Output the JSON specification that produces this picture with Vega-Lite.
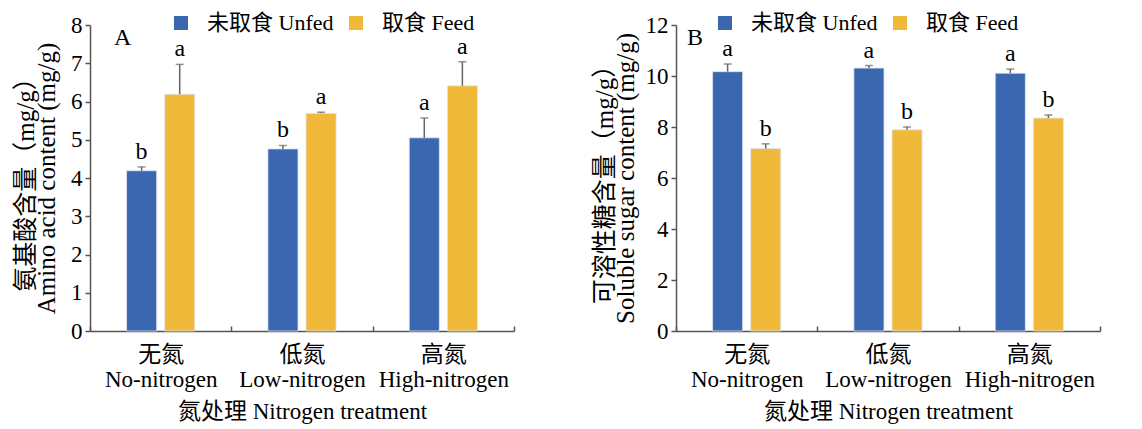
{
  "$schema": "https://vega.github.io/schema/vega-lite/v6.json",
  "bounds": "flush",
  "spacing": 162,
  "padding": {"left": 13, "top": 12, "right": 5, "bottom": 5},
  "datasets": {
    "A": [
      {"treatment": "No-nitrogen", "group": "未取食 Unfed", "mean": 4.19, "upper": 4.29, "letter": "b"},
      {"treatment": "No-nitrogen", "group": "取食 Feed", "mean": 6.19, "upper": 6.97, "letter": "a"},
      {"treatment": "Low-nitrogen", "group": "未取食 Unfed", "mean": 4.76, "upper": 4.85, "letter": "b"},
      {"treatment": "Low-nitrogen", "group": "取食 Feed", "mean": 5.69, "upper": 5.72, "letter": "a"},
      {"treatment": "High-nitrogen", "group": "未取食 Unfed", "mean": 5.05, "upper": 5.57, "letter": "a"},
      {"treatment": "High-nitrogen", "group": "取食 Feed", "mean": 6.41, "upper": 7.04, "letter": "a"}
    ],
    "B": [
      {"treatment": "No-nitrogen", "group": "未取食 Unfed", "mean": 10.17, "upper": 10.47, "letter": "a"},
      {"treatment": "No-nitrogen", "group": "取食 Feed", "mean": 7.16, "upper": 7.34, "letter": "b"},
      {"treatment": "Low-nitrogen", "group": "未取食 Unfed", "mean": 10.31, "upper": 10.41, "letter": "a"},
      {"treatment": "Low-nitrogen", "group": "取食 Feed", "mean": 7.89, "upper": 8.0, "letter": "b"},
      {"treatment": "High-nitrogen", "group": "未取食 Unfed", "mean": 10.11, "upper": 10.27, "letter": "a"},
      {"treatment": "High-nitrogen", "group": "取食 Feed", "mean": 8.35, "upper": 8.47, "letter": "b"}
    ],
    "labA": [{"label": "A"}],
    "labB": [{"label": "B"}]
  },
  "config": {
    "font": "Liberation Serif, Noto Sans CJK SC",
    "view": {"stroke": null},
    "axis": {
      "labelFont": "Liberation Serif, Noto Sans CJK SC",
      "titleFont": "Liberation Serif, Noto Sans CJK SC",
      "labelFontSize": 23,
      "titleFontSize": 23,
      "titleFontWeight": "normal",
      "labelColor": "#000",
      "titleColor": "#000",
      "domainColor": "#555",
      "tickColor": "#555",
      "domainWidth": 1.5,
      "tickWidth": 1.5,
      "grid": false,
      "labelOverlap": false
    },
    "legend": {
      "labelFont": "Liberation Serif, Noto Sans CJK SC",
      "labelFontSize": 22,
      "labelColor": "#000"
    }
  },
  "resolve": {"scale": {"color": "independent", "y": "independent"}},
  "hconcat": [
    {
      "width": 424,
      "height": 306,
      "data": {"name": "A"},
      "encoding": {
        "x": {
          "field": "treatment", "type": "nominal",
          "sort": ["No-nitrogen", "Low-nitrogen", "High-nitrogen"],
          "scale": {"paddingInner": 0, "paddingOuter": 0},
          "axis": {
            "title": "氮处理 Nitrogen treatment",
            "labelAngle": 0,
            "labelExpr": "datum.label == '' ? '' : [datum.value == 'No-nitrogen' ? '无氮' : datum.value == 'Low-nitrogen' ? '低氮' : '高氮', datum.value]",
            "labelLineHeight": 25,
            "labelPadding": 17,
            "labelBaseline": "top",
            "tickBand": "extent",
            "tickSize": -5,
            "titlePadding": 9
          }
        }
      },
      "layer": [
        {
          "mark": {"type": "bar", "stroke": "#dfe6f3", "strokeWidth": 0.8},
          "encoding": {
            "xOffset": {"field": "group", "type": "nominal", "sort": ["未取食 Unfed", "取食 Feed"], "scale": {"paddingInner": 0.21, "paddingOuter": 0.96}},
            "y": {
              "field": "mean", "type": "quantitative",
              "scale": {"domain": [0, 8], "nice": false},
              "axis": {
                "title": ["氨基酸含量（mg/g）", "Amino acid content (mg/g)"],
                "titleFontSize": 25,
                "values": [0, 1, 2, 3, 4, 5, 6, 7, 8],
                "format": "d",
                "tickCount": 12,
                "labelOverlap": false,
                "tickSize": 5,
                "labelPadding": 3,
                "titlePadding": 11,
                "titleLineHeight": 21
              }
            },
            "color": {
              "field": "group", "type": "nominal",
              "scale": {"domain": ["未取食 Unfed", "取食 Feed"], "range": ["#3A67B0", "#F0B93A"]},
              "legend": {
                "title": null, "orient": "none", "direction": "horizontal",
                "legendX": 80, "legendY": -13,
                "symbolType": "square", "symbolSize": 196, "symbolStrokeWidth": 0,
                "labelOffset": 15, "columnPadding": 11
              }
            }
          }
        },
        {
          "mark": {"type": "rule", "color": "#666", "strokeWidth": 1.5},
          "encoding": {
            "xOffset": {"field": "group", "type": "nominal", "sort": ["未取食 Unfed", "取食 Feed"]},
            "y": {"field": "mean", "type": "quantitative"},
            "y2": {"field": "upper"}
          }
        },
        {
          "mark": {"type": "tick", "color": "#666", "thickness": 1.5, "size": 8},
          "encoding": {
            "xOffset": {"field": "group", "type": "nominal", "sort": ["未取食 Unfed", "取食 Feed"]},
            "y": {"field": "upper", "type": "quantitative"}
          }
        },
        {
          "mark": {"type": "text", "baseline": "alphabetic", "dy": -8, "fontSize": 24, "color": "#000"},
          "encoding": {
            "xOffset": {"field": "group", "type": "nominal", "sort": ["未取食 Unfed", "取食 Feed"]},
            "y": {"field": "upper", "type": "quantitative"},
            "text": {"field": "letter"}
          }
        },
        {
          "data": {"name": "labA"},
          "mark": {"type": "text", "align": "left", "baseline": "middle", "fontSize": 24, "color": "#000", "dx": 24},
          "encoding": {
            "x": {"datum": "No-nitrogen", "type": "nominal", "bandPosition": 0},
            "y": {"datum": 7.66, "type": "quantitative"},
            "text": {"field": "label"}
          }
        }
      ]
    },
    {
      "width": 424,
      "height": 306,
      "data": {"name": "B"},
      "encoding": {
        "x": {
          "field": "treatment", "type": "nominal",
          "sort": ["No-nitrogen", "Low-nitrogen", "High-nitrogen"],
          "scale": {"paddingInner": 0, "paddingOuter": 0},
          "axis": {
            "title": "氮处理 Nitrogen treatment",
            "labelAngle": 0,
            "labelExpr": "datum.label == '' ? '' : [datum.value == 'No-nitrogen' ? '无氮' : datum.value == 'Low-nitrogen' ? '低氮' : '高氮', datum.value]",
            "labelLineHeight": 25,
            "labelPadding": 17,
            "labelBaseline": "top",
            "tickBand": "extent",
            "tickSize": -5,
            "titlePadding": 9
          }
        }
      },
      "layer": [
        {
          "mark": {"type": "bar", "stroke": "#dfe6f3", "strokeWidth": 0.8},
          "encoding": {
            "xOffset": {"field": "group", "type": "nominal", "sort": ["未取食 Unfed", "取食 Feed"], "scale": {"paddingInner": 0.21, "paddingOuter": 0.96}},
            "y": {
              "field": "mean", "type": "quantitative",
              "scale": {"domain": [0, 12], "nice": false},
              "axis": {
                "title": ["可溶性糖含量（mg/g）", "Soluble sugar content (mg/g)"],
                "titleFontSize": 25,
                "values": [0, 2, 4, 6, 8, 10, 12],
                "format": "d",
                "tickCount": 12,
                "labelOverlap": false,
                "tickSize": 5,
                "labelPadding": 3,
                "titlePadding": 7,
                "titleLineHeight": 21
              }
            },
            "color": {
              "field": "group", "type": "nominal",
              "scale": {"domain": ["未取食 Unfed", "取食 Feed"], "range": ["#3A67B0", "#F0B93A"]},
              "legend": {
                "title": null, "orient": "none", "direction": "horizontal",
                "legendX": 38, "legendY": -13,
                "symbolType": "square", "symbolSize": 196, "symbolStrokeWidth": 0,
                "labelOffset": 15, "columnPadding": 11
              }
            }
          }
        },
        {
          "mark": {"type": "rule", "color": "#666", "strokeWidth": 1.5},
          "encoding": {
            "xOffset": {"field": "group", "type": "nominal", "sort": ["未取食 Unfed", "取食 Feed"]},
            "y": {"field": "mean", "type": "quantitative"},
            "y2": {"field": "upper"}
          }
        },
        {
          "mark": {"type": "tick", "color": "#666", "thickness": 1.5, "size": 8},
          "encoding": {
            "xOffset": {"field": "group", "type": "nominal", "sort": ["未取食 Unfed", "取食 Feed"]},
            "y": {"field": "upper", "type": "quantitative"}
          }
        },
        {
          "mark": {"type": "text", "baseline": "alphabetic", "dy": -8, "fontSize": 24, "color": "#000"},
          "encoding": {
            "xOffset": {"field": "group", "type": "nominal", "sort": ["未取食 Unfed", "取食 Feed"]},
            "y": {"field": "upper", "type": "quantitative"},
            "text": {"field": "letter"}
          }
        },
        {
          "data": {"name": "labB"},
          "mark": {"type": "text", "align": "left", "baseline": "middle", "fontSize": 24, "color": "#000", "dx": 11},
          "encoding": {
            "x": {"datum": "No-nitrogen", "type": "nominal", "bandPosition": 0},
            "y": {"datum": 11.49, "type": "quantitative"},
            "text": {"field": "label"}
          }
        }
      ]
    }
  ]
}
